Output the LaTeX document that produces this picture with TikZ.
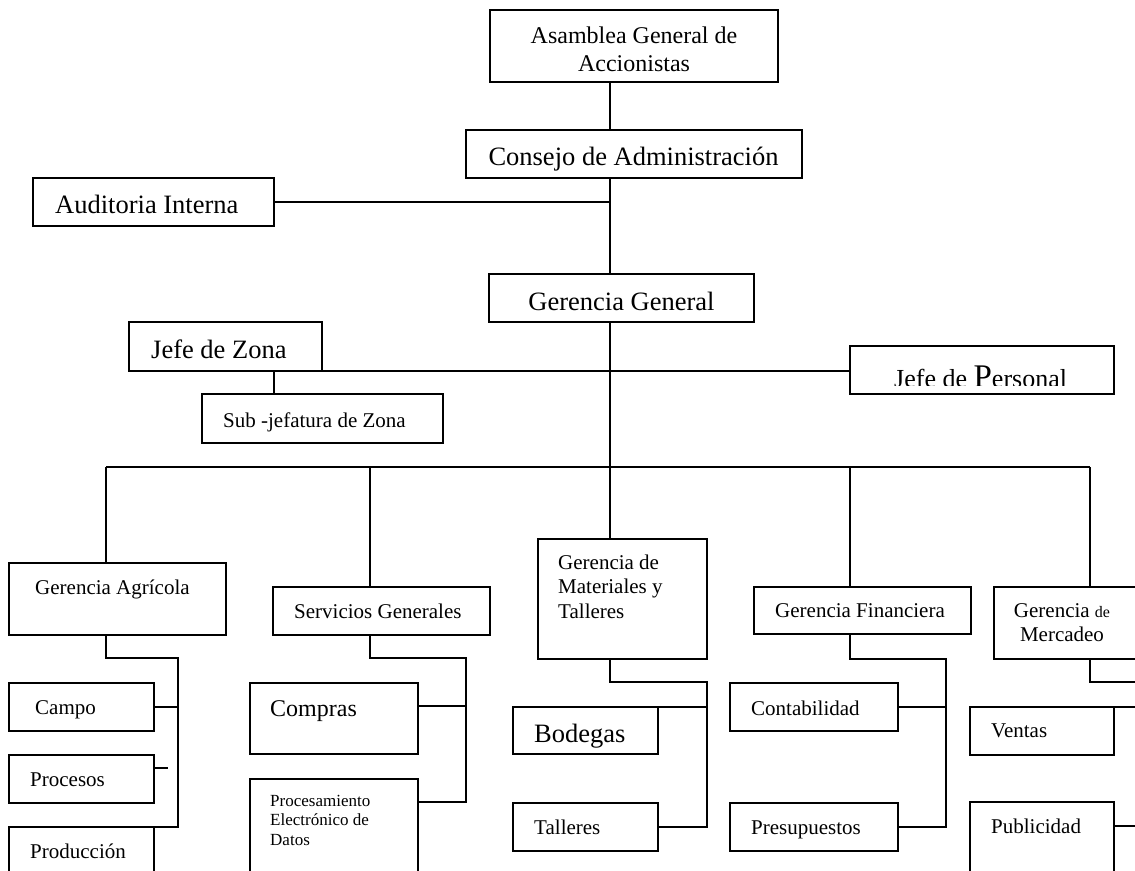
\documentclass[tikz,border=0pt]{standalone}
\usepackage{fontspec}
\setmainfont{Liberation Serif}
\usetikzlibrary{fit}
\newcommand\leftlines[1]{\vtop{\halign{##\hfil\cr#1\crcr}}}
\newcommand\centerlines[1]{\vtop{\halign{\hfil##\hfil\cr#1\crcr}}}
\begin{document}
\begin{tikzpicture}[x=1pt,y=-1pt,
  box/.style={draw, line width=2pt, inner sep=0pt, outer sep=0pt, rectangle},
  link/.style={line width=2pt},
  big/.style={inner sep=0pt, font=\fontsize{26.5}{30}\selectfont},
  mid/.style={inner sep=0pt, font=\fontsize{24}{28}\selectfont},
  reg/.style={inner sep=0pt, font=\fontsize{21}{24.5}\selectfont},
  sml/.style={inner sep=0pt, font=\fontsize{17}{19.5}\selectfont}]
\useasboundingbox (0,0) rectangle (1135,870);
\path[clip] (0,0) rectangle (1135,870);

% boxes
\node[box, fit={(490,10) (778,82)}] (asam) {};
\node[box, fit={(466,130) (802,178)}] (consejo) {};
\node[box, fit={(33,178) (274,226)}] (audit) {};
\node[box, fit={(489,274) (754,322)}] (gg) {};
\node[box, fit={(129,322) (322,371)}] (jzona) {};
\node[box, fit={(202,394) (443,443)}] (subj) {};
\node[box, fit={(850,346) (1114,394)}] (jper) {};
\node[box, fit={(9,563) (226,635)}] (agri) {};
\node[box, fit={(273,587) (490,635)}] (serv) {};
\node[box, fit={(538,539) (707,659)}] (mat) {};
\node[box, fit={(754,587) (971,634)}] (fin) {};
\node[box, fit={(994,587) (1160,659)}] (merc) {};
\node[box, fit={(9,683) (154,731)}] (campo) {};
\node[box, fit={(9,755) (154,803)}] (proc) {};
\node[box, fit={(9,827) (154,900)}] (prod) {};
\node[box, fit={(250,683) (418,754)}] (compras) {};
\node[box, fit={(250,779) (418,900)}] (ped) {};
\node[box, fit={(513,707) (658,754)}] (bod) {};
\node[box, fit={(513,803) (658,851)}] (tall) {};
\node[box, fit={(730,683) (898,731)}] (cont) {};
\node[box, fit={(730,803) (898,851)}] (presu) {};
\node[box, fit={(970,707) (1114,755)}] (vent) {};
\node[box, fit={(970,802) (1114,900)}] (publ) {};

% texts
\node[mid, anchor=base] (asamT) at (634,43) {\centerlines{Asamblea General de\cr Accionistas}};
\node[big, anchor=base] (consejoT) at (633.5,165) {Consejo de Administración};
\node[big, anchor=base west] (auditT) at (55,213) {Auditoria Interna};
\node[big, anchor=base] (ggT) at (621.5,310) {Gerencia General};
\node[big, anchor=base west] (jzonaT) at (151,358) {Jefe de Zona};
\node[reg, anchor=base west] (subjT) at (223,427) {Sub -jefatura de Zona};
\begin{scope}
\clip (850,346) rectangle (1114,385);
\node[anchor=base west, inner sep=0pt, font=\fontsize{26}{30}\selectfont] (jperT) at (894,387) {Jefe de {\fontsize{33}{33}\selectfont P}ersonal};
\end{scope}
\node[reg, anchor=base west] (agriT) at (35,594) {Gerencia Agrícola};
\node[reg, anchor=base west] (servT) at (294,618) {Servicios Generales};
\node[reg, anchor=base west] (matT) at (558,569) {\leftlines{Gerencia de\cr Materiales y\cr Talleres}};
\node[reg, anchor=base west] (finT) at (775,617) {Gerencia Financiera};
\node[reg, anchor=base] (mercT) at (1062,617) {\centerlines{Gerencia {\fontsize{16}{19}\selectfont de}\cr Mercadeo}};
\node[reg, anchor=base west] (campoT) at (35,714) {Campo};
\node[reg, anchor=base west] (procT) at (30,786) {Procesos};
\node[reg, anchor=base west] (prodT) at (30,858) {Producción};
\node[mid, anchor=base west] (comprasT) at (270,716) {Compras};
\node[sml, anchor=base west] (pedT) at (270,806) {\leftlines{Procesamiento\cr Electrónico de\cr Datos}};
\node[big, anchor=base west] (bodT) at (534,742) {Bodegas};
\node[reg, anchor=base west] (tallT) at (534,834) {Talleres};
\node[reg, anchor=base west] (contT) at (751,715) {Contabilidad};
\node[reg, anchor=base west] (presuT) at (751,834) {Presupuestos};
\node[reg, anchor=base west] (ventT) at (991,737) {Ventas};
\node[reg, anchor=base west] (publT) at (991,833) {Publicidad};

% helper coordinates
\coordinate (sp) at (610,0);
\coordinate (jz) at (274,0);
\coordinate (c1) at (106,467);
\coordinate (c2) at (370,467);
\coordinate (c3) at (610,467);
\coordinate (c4) at (850,467);
\coordinate (c5) at (1090,467);
\coordinate (agv) at (178,658);
\coordinate (sv) at (466,658);
\coordinate (mv) at (707,682);
\coordinate (fv) at (946,659);
\coordinate (mk) at (1150,682);

% connectors
\draw[link] (asam.south -| sp) -- (consejo.north -| sp);
\draw[link] (consejo.south -| sp) -- (gg.north -| sp);
\draw[link] (audit.east) -- (audit.east -| sp);
\draw[link] (gg.south -| sp) -- (c3);
\draw[link] (jzona.south east) -- (jzona.south east -| jper.west);
\draw[link] (jzona.south -| jz) -- (subj.north -| jz);
\draw[link] (c1) -- (c5);
\draw[link] (c1) -- (agri.north -| c1);
\draw[link] (c2) -- (serv.north -| c2);
\draw[link] (c3) -- (mat.north -| c3);
\draw[link] (c4) -- (fin.north -| c4);
\draw[link] (c5) -- (merc.north -| c5);

\draw[link] (agri.south -| c1) |- (agv) |- (prod.north east);
\draw[link] (campo.east) -- (campo.east -| agv);
\draw[link] ([yshift=11pt]proc.east) -- ++(14,0);

\draw[link] (serv.south -| c2) |- (sv) |- ([yshift=-23pt]ped.north east);
\draw[link] ([yshift=12.5pt]compras.east) -- ([yshift=12.5pt]compras.east -| sv);

\draw[link] (mat.south -| c3) |- (mv) |- (tall.east);
\draw[link] (bod.north east) -- (bod.north east -| mv);

\draw[link] (fin.south -| c4) |- (fv) |- (presu.east);
\draw[link] (cont.east) -- (cont.east -| fv);

\draw[link] (merc.south -| c5) |- (mk);
\draw[link] (vent.north east) -- ++(40,0);
\draw[link] ([yshift=-24pt]publ.north east) -- ++(40,0);
\end{tikzpicture}
\end{document}
